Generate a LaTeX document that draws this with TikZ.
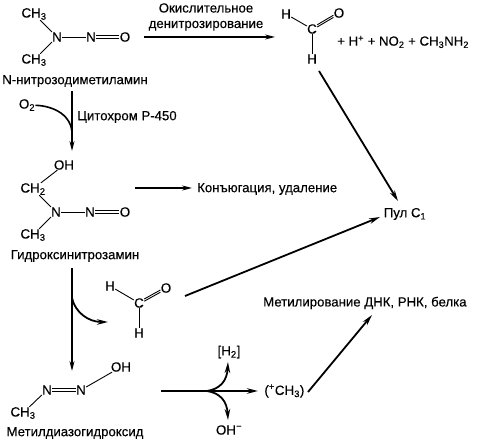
\documentclass[tikz,border=0pt]{standalone}
\usepackage{fontspec}
\setmainfont[FakeBold=0.25]{Liberation Sans}
\usetikzlibrary{arrows.meta}
\newcommand{\sbs}[1]{\textsubscript{#1}}
\newcommand{\sps}[1]{\textsuperscript{#1}}
\newcommand{\dblbond}[2]{%
  \draw[bond,transform canvas={yshift=1.1pt}] (#1) -- (#2);
  \draw[bond,transform canvas={yshift=-1.1pt}] (#1) -- (#2);}
\tikzset{
  atom/.style={inner sep=0.2pt,font=\fontsize{13.4}{13.4}\selectfont},
  lbl/.style={inner sep=0pt,font=\fontsize{13.2}{15.5}\selectfont},
  bond/.style={line width=0.9pt},
  arr/.style={line width=1.3pt,-{Stealth[length=10pt,width=5pt]}},
  thick arr/.style={line width=1.8pt,-{Stealth[length=11pt,width=5.5pt]}}
}
\begin{document}
\begin{tikzpicture}[x=1pt,y=-1pt]
\useasboundingbox (0,0) rectangle (479,443);
% top molecule
\node[atom] (a1) at (34,14) {CH\sbs{3}};
\node[atom] (a2) at (34,60) {CH\sbs{3}};
\node[atom] (a3) at (57,37) {N};
\node[atom] (a4) at (91,37) {N};
\node[atom] (a5) at (125,37) {O};
\draw[bond] (a1) -- (a3); \draw[bond] (a2) -- (a3); \draw[bond] (a3) -- (a4);
\dblbond{a4}{a5}
\node[lbl] (l1) at (75,81) {N-нитрозодиметиламин};
% oxidation
\node[lbl,align=center] (t1) at (206,17) {Окислительное\\денитрозирование};
\coordinate (c1) at (144,37);
\coordinate (c2) at (275,37);
\draw[arr] (c1) -- (c2);
% top formaldehyde
\node[atom] (f1) at (286,14) {H};
\node[atom] (f2) at (312,29) {C};
\node[atom] (f3) at (339,13) {O};
\node[atom] (f4) at (312,59) {H};
\draw[bond] (f1) -- (f2); \dblbond{f2}{f3} \draw[bond] (f2) -- (f4);
\node[lbl,anchor=west] (p1) at (337,42) {+ H\sps{+} + NO\sbs{2} + CH\sbs{3}NH\sbs{2}};
% pool
\node[lbl] (pool) at (405,214) {Пул С\sbs{1}};
\coordinate (c3) at (319,71);
\coordinate (c4) at (398,201);
\draw[thick arr] (c3) -- (c4);
% cytochrome
\coordinate (d1) at (72,91);
\coordinate (d2) at (72,151);
\draw[arr] (d1) -- (d2);
\node[atom] (o2) at (27,105) {O\sbs{2}};
\coordinate (d3) at (72,134);
\draw[line width=1.6pt] (o2) .. controls (55,106) and (72,116) .. (d3);
\node[lbl,anchor=west] (cyt) at (77,117) {Цитохром Р-450};
% second molecule
\node[atom] (b1) at (64,165) {OH};
\node[atom] (b2) at (33,189) {CH\sbs{2}};
\node[atom] (b3) at (56,212) {N};
\node[atom] (b4) at (90,212) {N};
\node[atom] (b5) at (125,212) {O};
\node[atom] (b6) at (33,235) {CH\sbs{3}};
\draw[bond] (b1) -- (b2); \draw[bond] (b2) -- (b3); \draw[bond] (b3) -- (b6);
\draw[bond] (b3) -- (b4); \dblbond{b4}{b5}
\node[lbl] (l2) at (75,256) {Гидроксинитрозамин};
\coordinate (e1) at (135,188);
\coordinate (e2) at (192,188);
\draw[arr] (e1) -- (e2);
\node[lbl,anchor=west] (conj) at (197,189) {Конъюгация, удаление};
% down
\coordinate (g1) at (72,268);
\coordinate (g2) at (72,371);
\draw[arr] (g1) -- (g2);
\coordinate (g3) at (72,298);
\coordinate (g4) at (108,322);
\draw[thick arr] (g3) .. controls (75,312) and (88,322) .. (g4);
% second formaldehyde
\node[atom] (h1) at (110,286) {H};
\node[atom] (h2) at (139,303) {C};
\node[atom] (h3) at (166,288) {O};
\node[atom] (h4) at (139,333) {H};
\draw[bond] (h1) -- (h2); \dblbond{h2}{h3} \draw[bond] (h2) -- (h4);
\coordinate (k1) at (185,296);
\coordinate (k2) at (380,217);
\draw[thick arr] (k1) -- (k2);
% third molecule
\node[atom] (m1) at (23,413) {CH\sbs{3}};
\node[atom] (m2) at (47,390) {N};
\node[atom] (m3) at (81,390) {N};
\node[atom] (m4) at (121,367) {OH};
\draw[bond] (m1) -- (m2); \dblbond{m2}{m3} \draw[bond] (m3) -- (m4);
\node[lbl] (l3) at (75,433) {Метилдиазогидроксид};
% branch
\coordinate (n1) at (161,391);
\coordinate (n2) at (258,391);
\coordinate (n3) at (207,391);
\coordinate (n4) at (228,362);
\coordinate (n5) at (228,420);
\draw[thick arr] (n1) -- (n2);
\draw[thick arr] (n3) .. controls (220,389) and (227,381) .. (n4);
\draw[thick arr] (n3) .. controls (220,393) and (227,401) .. (n5);
\node[atom] (h2n) at (229,352) {[H\sbs{2}]};
\node[atom] (oh) at (229,430) {OH\sps{−}};
\node[atom,anchor=west] (ch3) at (264,391) {(\sps{+}CH\sbs{3})};
\coordinate (q1) at (308,392);
\coordinate (q2) at (372,315);
\draw[thick arr] (q1) -- (q2);
\node[lbl,anchor=west] (meth) at (263,303) {Метилирование ДНК, РНК, белка};
\end{tikzpicture}
\end{document}
